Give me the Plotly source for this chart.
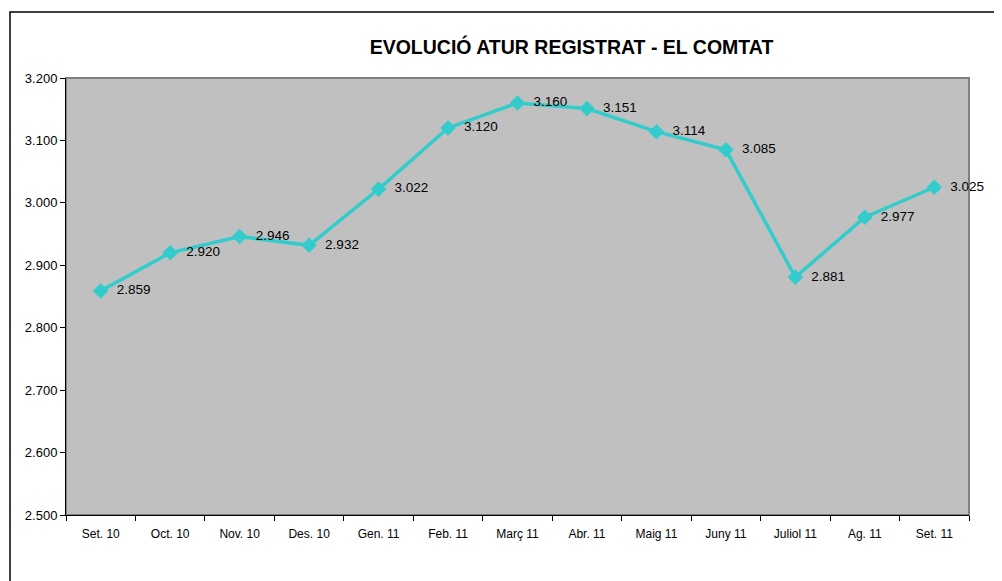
import plotly.graph_objects as go

months = ["Set. 10", "Oct. 10", "Nov. 10", "Des. 10", "Gen. 11", "Feb. 11", "Març 11",
          "Abr. 11", "Maig 11", "Juny 11", "Juliol 11", "Ag. 11", "Set. 11"]
aturats = [2859, 2920, 2946, 2932, 3022, 3120, 3160, 3151, 3114, 3085, 2881, 2977, 3025]
y_ticks = [2500, 2600, 2700, 2800, 2900, 3000, 3100, 3200]

# the page adds an 8px body margin, so the figure is shrunk and shifted
OFF = 8
W, H = 1002 - OFF, 581 - OFF
L, R, T, B = 66 - OFF, 1002 - 969, 78 - OFF, 581 - 515
pw, ph = W - L - R, H - T - B


def px(x):
    return (x - OFF - L) / pw


def py(y):
    return (H - B - (y - OFF)) / ph


def fmt(v):
    return f"{v:,}".replace(",", ".")


fig = go.Figure()
fig.add_trace(go.Scatter(
    x=months, y=aturats,
    mode="lines+markers+text",
    line=dict(color="#33CCCC", width=3.5),
    marker=dict(symbol="diamond", size=12, color="#33CCCC"),
    text=["  " + fmt(v) for v in aturats],
    textposition="middle right",
    textfont=dict(size=13.5, color="black"),
    cliponaxis=False,
    showlegend=False,
))

# plot area frame (grey on top/right) and outer chart border
fig.add_shape(type="rect", xref="paper", yref="paper", x0=0, x1=1, y0=0, y1=1,
              line=dict(color="#808080", width=2), layer="below")
fig.add_shape(type="rect", xref="paper", yref="paper",
              x0=px(10), x1=px(1000), y0=py(640), y1=py(12),
              line=dict(color="black", width=1.5))

fig.update_layout(
    width=W, height=H,
    margin=dict(l=L, r=R, t=T, b=B),
    paper_bgcolor="white",
    plot_bgcolor="#C0C0C0",
    font=dict(family="Liberation Sans, Arial", size=12, color="black"),
    title=dict(text="<b>EVOLUCIÓ ATUR REGISTRAT - EL COMTAT</b>",
               x=px(571.5), xanchor="center", xref="paper",
               y=1 - (47 - OFF) / H, yanchor="middle",
               font=dict(size=19.5, color="black")),
    xaxis=dict(
        range=[-0.5, len(months) - 0.5],
        showline=True, linecolor="black", linewidth=1,
        ticks="outside", ticklen=5, tickcolor="black",
        tickson="boundaries", showgrid=False,
        ticklabelstandoff=8,
        tickfont=dict(size=12),
    ),
    yaxis=dict(
        range=[2500, 3200], tickvals=y_ticks,
        ticktext=[fmt(v) for v in y_ticks],
        showline=True, linecolor="black", linewidth=1,
        ticks="outside", ticklen=5, tickcolor="black",
        showgrid=False, zeroline=False,
        tickfont=dict(size=13),
    ),
)

fig.write_html("out.html")
